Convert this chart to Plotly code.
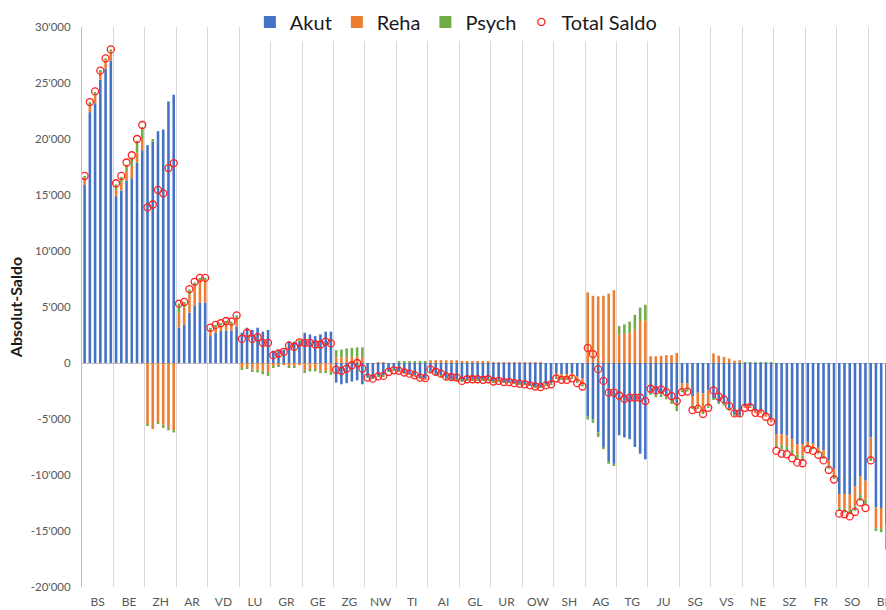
import plotly.graph_objects as go

CANTONS = ["BS", "BE", "ZH", "AR", "VD", "LU", "GR", "GE", "ZG", "NW", "TI", "AI", "GL",
           "UR", "OW", "SH", "AG", "TG", "JU", "SG", "VS", "NE", "SZ", "FR", "SO", "BL"]
N_PER_GROUP = 6

AKUT = [
    15900, 22400, 23200, 25300, 26300, 27000,      # BS
    14900, 15400, 16250, 16500, 17900, 19000,      # BE
    19450, 19750, 20700, 20850, 23350, 23950,      # ZH
    3150, 3450, 4500, 5100, 5400, 5400,            # AR
    2400, 2700, 2850, 2900, 2900, 3250,            # VD
    2700, 3150, 2950, 3150, 2800, 2950,            # LU
    1100, 1150, 1200, 1950, 1900, 1950,            # GR
    2700, 2550, 2400, 2550, 2800, 2800,            # GE
    -1750, -1900, -1800, -1650, -1550, -1900,      # ZG
    -1250, -1350, -1150, -1100, -750, -600,        # NW
    -750, -900, -1000, -1150, -1350, -1400,        # TI
    -770, -980, -1150, -1420, -1450, -1510,        # AI
    -1600, -1450, -1450, -1450, -1500, -1450,      # GL
    -1650, -1600, -1700, -1700, -1800, -1850,      # UR
    -1900, -2000, -2100, -2150, -1900, -1800,      # OW
    -900, -1000, -1000, -900, -1200, -1400,        # SH
    -4750, -5050, -6200, -7550, -8750, -9000,      # AG
    -6450, -6650, -6800, -7500, -8100, -8600,      # TG
    -2650, -2800, -2800, -2950, -3250, -3600,      # JU
    -1800, -1800, -2950, -2650, -2700, -2450,      # SG
    -3150, -3500, -3650, -4100, -4600, -4650,      # VS
    -3900, -3850, -4300, -4350, -4600, -5000,      # NE
    -6350, -6350, -6450, -6800, -7250, -7250,      # SZ
    -7050, -7200, -7500, -7800, -8700, -9450,      # FR
    -11700, -11700, -11700, -11000, -10100, -10500,  # SO
    -6650, -12900, -12950, -14400, -14600, -14800,   # BL
]

REHA = [
    600, 600, 700, 700, 700, 800,                  # BS
    550, 750, 900, 1100, 900, 1000,                # BE
    -5500, -5900, -5300, -5500, -5800, -6000,      # ZH
    1350, 1500, 1600, 1950, 2050, 2050,            # AR
    550, 500, 500, 600, 550, 700,                  # VD
    -450, -400, -600, -600, -700, -800,            # LU
    -300, -250, -200, -350, -350, -200,            # GR
    -700, -600, -600, -700, -700, -800,            # GE
    500, 500, 550, 550, 550, 550,                  # ZG
    0, 0, 50, 50, 0, 0,                            # NW
    -50, -50, -50, -50, -50, -50,                  # TI
    250, 250, 250, 250, 250, 250,                  # AI
    100, 100, 100, 100, 100, 100,                  # GL
    50, 50, 50, 50, 50, 50,                        # UR
    50, 50, 50, 50, -100, -100,                    # OW
    -350, -350, -350, -350, -450, -500,            # SH
    6300, 6000, 5950, 6000, 6200, 6500,            # AG
    2550, 2600, 2700, 3000, 3750, 3800,            # TG
    600, 600, 650, 700, 700, 900,                  # JU
    -550, -550, -850, -1250, -1750, -1350,         # SG
    850, 650, 550, 400, 200, 250,                  # VS
    -100, -100, -150, -150, -200, -300,            # NE
    -900, -950, -950, -950, -950, -1000,           # SZ
    -300, -300, -300, -450, -450, -600,            # FR
    -1200, -1300, -1400, -1800, -1650, -1700,      # SO
    -1950, -1850, -1850, -2100, -2000, -2000,      # BL
]

PSYCH = [
    200, 300, 300, 100, 200, 200,                  # BS
    500, 450, 550, 750, 1050, 1050,                # BE
    -100, 250, -100, -300, -200, -200,             # ZH
    800, 500, 450, 150, 150, 150,                  # AR
    200, 200, 200, 250, 250, 300,                  # VD
    -100, -50, -200, -250, -300, -350,             # LU
    -100, -50, 0, -50, -100, 100,                  # GR
    -200, -150, -150, -200, -200, -250,            # GE
    650, 700, 750, 800, 850, 850,                  # ZG
    -50, -50, -100, -100, -50, -50,                # NW
    100, 100, 100, 100, 100, 100,                  # TI
    -50, -50, -50, -50, -50, -50,                  # AI
    -100, -100, -100, -100, -100, -100,            # GL
    -50, -50, -50, -50, -50, -50,                  # UR
    -50, -50, -50, -50, -50, -50,                  # OW
    -120, -150, -150, -120, -150, -200,            # SH
    -300, -300, -400, -150, -250, -200,            # AG
    750, 850, 1000, 1300, 1200, 1400,              # TG
    -200, -250, -250, -300, -400, -700,            # JU
    -250, -200, -300, -200, -100, -200,            # SG
    -150, -150, -150, -150, -100, -100,            # VS
    50, 50, 50, 50, 50, 50,                        # NE
    -300, -400, -450, -500, -400, -500,            # SZ
    -200, -200, -300, -300, -300, -300,            # FR
    -300, -350, -400, -400, -550, -450,            # SO
    -100, -250, -300, -150, -200, -200,            # BL
]

TOTAL = [
    16700, 23300, 24250, 26100, 27200, 28000,      # BS
    16050, 16700, 17900, 18550, 20000, 21250,      # BE
    13900, 14150, 15450, 15150, 17400, 17850,      # ZH
    5300, 5450, 6600, 7250, 7600, 7600,            # AR
    3150, 3400, 3550, 3750, 3700, 4250,            # VD
    2150, 2700, 2150, 2300, 1800, 1800,            # LU
    700, 850, 1000, 1550, 1450, 1850,              # GR
    1800, 1800, 1650, 1650, 1900, 1750,            # GE
    -600, -700, -500, -200, 0, -500,               # ZG
    -1300, -1400, -1200, -1150, -800, -650,        # NW
    -700, -850, -950, -1100, -1300, -1350,         # TI
    -570, -780, -950, -1220, -1250, -1310,         # AI
    -1600, -1450, -1450, -1450, -1500, -1450,      # GL
    -1650, -1600, -1700, -1700, -1800, -1850,      # UR
    -1900, -2000, -2100, -2150, -2000, -1900,      # OW
    -1370, -1500, -1500, -1370, -1800, -2100,      # SH
    1350, 800, -550, -1600, -2650, -2650,          # AG
    -2900, -3200, -3100, -3100, -3100, -3400,      # TG
    -2300, -2450, -2350, -2600, -2950, -3400,      # JU
    -2600, -2550, -4200, -4100, -4550, -4000,      # SG
    -2450, -3000, -3250, -3850, -4500, -4500,      # VS
    -4000, -3950, -4450, -4500, -4800, -5250,      # NE
    -7850, -8100, -8150, -8500, -8900, -8950,      # SZ
    -7700, -7850, -8200, -8700, -9550, -10400,     # FR
    -13450, -13500, -13700, -13300, -12450, -12950,  # SO
    -8700, None, None, None, None, None,           # BL
]

Y_TICKS = list(range(-20000, 30001, 5000))
Y_TICKTEXT = [("-" if v < 0 else "") + (f"{abs(v):,}".replace(",", "'")) for v in Y_TICKS]

# x position of each bar: group index plus an offset for its slot in the group
X = []
for g in range(len(CANTONS)):
    for k in range(N_PER_GROUP):
        X.append(g + (k - (N_PER_GROUP - 1) / 2) / N_PER_GROUP)

FONT = "Lato, 'Liberation Sans', sans-serif"
BAR_W = 0.082

fig = go.Figure()
fig.add_bar(x=X, y=AKUT, name="Akut", width=BAR_W, marker=dict(color="#4472C4", line_width=0))
fig.add_bar(x=X, y=REHA, name="Reha", width=BAR_W, marker=dict(color="#ED7D31", line_width=0))
fig.add_bar(x=X, y=PSYCH, name="Psych", width=BAR_W, marker=dict(color="#70AD47", line_width=0))
fig.add_scatter(x=X, y=TOTAL, mode="markers", name="Total Saldo",
                marker=dict(symbol="circle-open", size=7, color="#FF2020", line=dict(width=1.3)))

fig.update_layout(
    width=886, height=610,
    margin=dict(l=82, r=0, t=27, b=23, autoexpand=False),
    paper_bgcolor="white", plot_bgcolor="white",
    barmode="relative",
    font=dict(family=FONT, color="#595959"),
    showlegend=True,
    legend=dict(orientation="h", x=0.465, xanchor="center", y=1.009, yanchor="middle",
                font=dict(size=20, color="#1a1a1a", family=FONT), bgcolor="white"),
    xaxis=dict(range=[-0.5, 25.07], tickmode="array", tickvals=list(range(len(CANTONS))),
               ticktext=CANTONS, showgrid=False, zeroline=False, ticks="", showline=False,
               tickfont=dict(size=12, color="#595959"), automargin=False, ticklabelstandoff=6,
               ticklabeloverflow="allow",
               minor=dict(tickmode="linear", tick0=-0.5, dtick=1, showgrid=True,
                          gridcolor="#d9d9d9", gridwidth=1, ticks="")),
    yaxis=dict(range=[-20000, 30000], tickmode="array", tickvals=Y_TICKS, ticktext=Y_TICKTEXT,
               showgrid=False, zeroline=True, zerolinecolor="#bfbfbf", zerolinewidth=1,
               showline=True, linecolor="#bfbfbf", linewidth=1, ticks="",
               tickfont=dict(size=11.5, color="#595959"), automargin=False, ticklabelstandoff=8,
               title=dict(text="<b>Absolut-Saldo</b>", font=dict(size=16, color="#1a1a1a"),
                          standoff=4)),
)

fig.write_html("out.html", config={"displayModeBar": False},
               post_script="document.body.style.margin='0';document.body.style.overflow='hidden';")
